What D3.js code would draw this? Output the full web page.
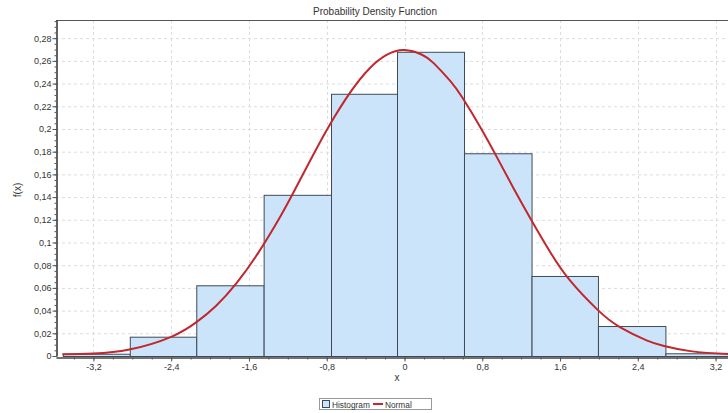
<!DOCTYPE html>
<html>
<head>
<meta charset="utf-8">
<script src="https://cdn.jsdelivr.net/npm/d3@7"></script>
<style>
  body { margin: 0; background: #fff; }
  svg text { font-family: "Liberation Sans", Arial, sans-serif; fill: #333; }
</style>
</head>
<body>
<div id="chart"></div>
<script>
// Histogram bins (edges) and density values
const binEdges = [-3.515, -2.826, -2.142, -1.449, -0.756, -0.077, 0.612, 1.307, 1.99, 2.684, 3.373];
const histValues = [0.002, 0.017, 0.0623, 0.142, 0.231, 0.268, 0.1786, 0.0705, 0.0264, 0.0024];

// Normal curve, points
const normalX = [-3.52, -3.2, -2.83, -2.4, -2.14, -1.94, -1.73, -1.5, -1.28, -1.14, -0.94, -0.77, -0.56, -0.36, -0.18, 0, 0.18, 0.3, 0.47, 0.6, 0.78, 0.95, 1.12, 1.31, 1.5, 1.7, 1.99, 2.22, 2.49, 2.67, 2.94, 3.33, 3.6];
const normalY = [0.0015, 0.0022, 0.0057, 0.0169, 0.0298, 0.0441, 0.064, 0.0915, 0.1225, 0.1445, 0.177, 0.2035, 0.232, 0.2533, 0.2654, 0.2695, 0.2654, 0.258, 0.2423, 0.227, 0.2015, 0.1752, 0.148, 0.119, 0.0914, 0.0668, 0.0404, 0.0252, 0.0138, 0.0088, 0.0043, 0.0017, 0.0011];

const xTicks = [-3.2, -2.4, -1.6, -0.8, 0, 0.8, 1.6, 2.4, 3.2];
const yTicks = [0, 0.02, 0.04, 0.06, 0.08, 0.1, 0.12, 0.14, 0.16, 0.18, 0.2, 0.22, 0.24, 0.26, 0.28];

const width = 728;
const height = 413;

const x = d3.scaleLinear().domain([-3.585, 3.585]).range([56, 753]);
const y = d3.scaleLinear().domain([0, 0.296]).range([356, 20]);

const fmt = d => String(+d.toFixed(2)).replace(".", ",");

const svg = d3.select("#chart").append("svg")
    .attr("width", width)
    .attr("height", height);

// clip to plot area
svg.append("clipPath").attr("id", "plot")
  .append("rect").attr("x", 56).attr("y", 20).attr("width", 697).attr("height", 337);

// grid
const grid = svg.append("g").attr("stroke", "#dcdcdc").attr("stroke-dasharray", "3,3");
grid.selectAll(".gy").data(yTicks.slice(1)).enter().append("line")
    .attr("x1", 56).attr("x2", 753)
    .attr("y1", d => y(d) + 0.5).attr("y2", d => y(d) + 0.5);
grid.selectAll(".gx").data(xTicks).enter().append("line")
    .attr("x1", d => Math.round(x(d)) + 0.5).attr("x2", d => Math.round(x(d)) + 0.5)
    .attr("y1", 20).attr("y2", 356);

// histogram bars
const bins = histValues.map((v, i) => ({ x0: binEdges[i], x1: binEdges[i + 1], v }));
svg.append("g").attr("clip-path", "url(#plot)")
  .selectAll("rect").data(bins).enter().append("rect")
    .attr("x", d => x(d.x0) + 0.5)
    .attr("y", d => y(d.v) + 0.5)
    .attr("width", d => x(d.x1) - x(d.x0))
    .attr("height", d => y(0) - y(d.v))
    .attr("fill", "#cce4fa")
    .attr("stroke", "#3f4a58")
    .attr("stroke-width", 1);

// normal curve
const line = d3.line()
    .x((d, i) => x(normalX[i]))
    .y(d => y(d))
    .curve(d3.curveNatural);
svg.append("path")
    .attr("clip-path", "url(#plot)")
    .attr("d", line(normalY))
    .attr("fill", "none")
    .attr("stroke", "#c1272d")
    .attr("stroke-width", 2);

// plot frame (top)
svg.append("line").attr("x1", 56).attr("x2", 753).attr("y1", 20.5).attr("y2", 20.5)
    .attr("stroke", "#555");

// axes
svg.append("g").attr("transform", "translate(56.5,0)")
    .call(d3.axisLeft(y).tickValues(yTicks).tickFormat(fmt).tickSize(4).tickSizeOuter(0).tickPadding(1));
svg.append("g").attr("transform", "translate(56.5,0)")
    .call(d3.axisLeft(y).tickValues(d3.range(0, 0.296, 0.005)).tickFormat("").tickSize(2).tickSizeOuter(0));

svg.append("g").attr("transform", "translate(0,357.5)")
    .call(d3.axisBottom(x).tickValues(xTicks).tickFormat(fmt).tickSize(4).tickSizeOuter(0).tickPadding(2));
svg.append("g").attr("transform", "translate(0,357.5)")
    .call(d3.axisBottom(x).tickValues(d3.range(-3.4, 3.6, 0.2)).tickFormat("").tickSize(2).tickSizeOuter(0));

svg.selectAll(".tick line").attr("stroke", "#555");
svg.selectAll(".tick text").attr("font-size", 9).style("font-family", "'Liberation Sans', Arial, sans-serif").attr("fill", "#333");
svg.selectAll("path.domain").attr("stroke", "#444").attr("stroke-width", 1.2);

// titles
svg.append("text").attr("x", 375).attr("y", 15).attr("text-anchor", "middle")
    .attr("font-size", 10).text("Probability Density Function");
svg.append("text").attr("x", 397).attr("y", 381).attr("text-anchor", "middle")
    .attr("font-size", 10).text("x");
svg.append("text").attr("transform", "translate(21,190) rotate(-90)").attr("text-anchor", "middle")
    .attr("font-size", 10).text("f(x)");

// legend
const lg = svg.append("g");
lg.append("rect").attr("x", 319.5).attr("y", 398.5).attr("width", 112).attr("height", 11)
    .attr("fill", "#fff").attr("stroke", "#999");
lg.append("rect").attr("x", 322.5).attr("y", 400.5).attr("width", 7).attr("height", 7)
    .attr("fill", "#cce4fa").attr("stroke", "#3f4a58");
lg.append("text").attr("x", 332).attr("y", 407.5).attr("font-size", 8.3).text("Histogram");
lg.append("line").attr("x1", 373).attr("x2", 383).attr("y1", 404).attr("y2", 404)
    .attr("stroke", "#c1272d").attr("stroke-width", 2);
lg.append("text").attr("x", 385).attr("y", 407.5).attr("font-size", 8.3).text("Normal");
</script>
</body>
</html>
